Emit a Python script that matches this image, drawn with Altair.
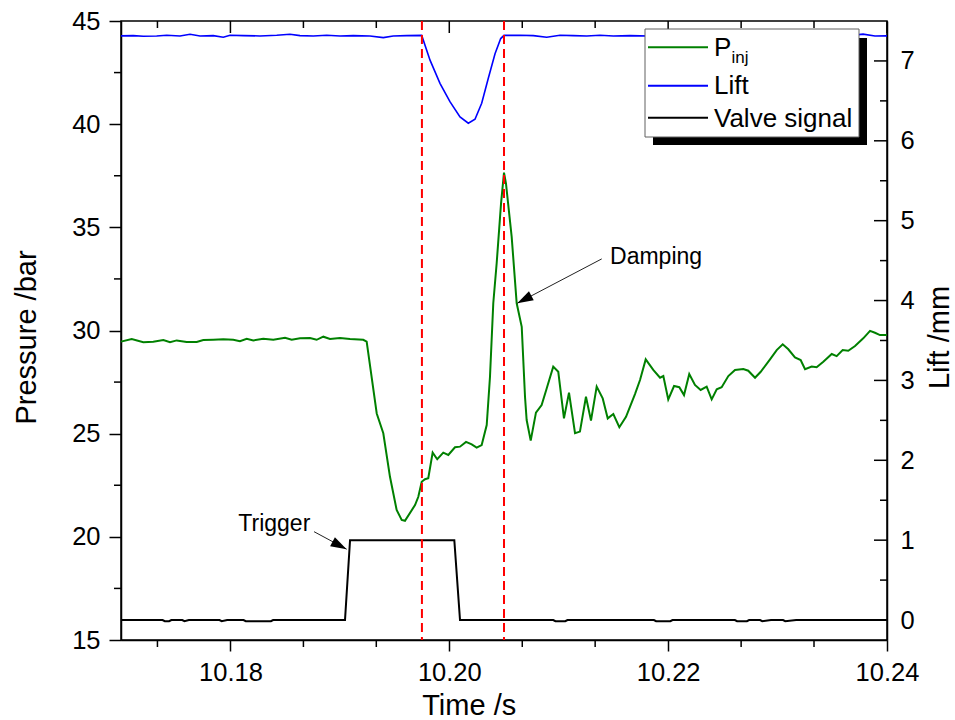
import altair as alt
import pandas as pd

# ---------------- data ----------------
pinj_t = [10.17000, 10.17098, 10.17204, 10.17295, 10.17387, 10.17448, 10.17509, 10.17600, 10.17692, 10.17752,
          10.17843, 10.17935, 10.18026, 10.18087, 10.18149, 10.18209, 10.18300, 10.18392, 10.18499, 10.18560,
          10.18636, 10.18727, 10.18788, 10.18849, 10.18910, 10.19001, 10.19093, 10.19214, 10.19245,
          10.19337, 10.19397, 10.19458, 10.19519, 10.19565, 10.19595, 10.19687, 10.19717, 10.19748, 10.19778,
          10.19808, 10.19848, 10.19890, 10.19945, 10.19991, 10.20052, 10.20098, 10.20153, 10.20205, 10.20250,
          10.20296, 10.20342, 10.20372, 10.20402, 10.20433, 10.20473, 10.20500, 10.20518, 10.20570, 10.20616,
          10.20662, 10.20692, 10.20707, 10.20744, 10.20792, 10.20844, 10.20890, 10.20950, 10.20996, 10.21048,
          10.21094, 10.21149, 10.21194, 10.21249, 10.21295, 10.21347, 10.21402, 10.21448, 10.21499, 10.21554,
          10.21615, 10.21697, 10.21743, 10.21795, 10.21864, 10.21926, 10.21956, 10.22001, 10.22054, 10.22102,
          10.22145, 10.22193, 10.22245, 10.22297, 10.22352, 10.22398, 10.22444, 10.22489, 10.22550, 10.22611,
          10.22687, 10.22732, 10.22794, 10.22846, 10.22931, 10.22992, 10.23047, 10.23098, 10.23159, 10.23211,
          10.23251, 10.23312, 10.23357, 10.23418, 10.23495, 10.23540, 10.23595, 10.23646, 10.23708, 10.23783,
          10.23845, 10.23890, 10.23936, 10.24000]
pinj_p = [29.46, 29.59, 29.43, 29.46, 29.54, 29.43, 29.52, 29.44, 29.44, 29.54,
          29.55, 29.57, 29.55, 29.48, 29.60, 29.52, 29.60, 29.55, 29.65, 29.55,
          29.62, 29.64, 29.55, 29.70, 29.59, 29.64, 29.59, 29.55, 29.46,
          25.98, 25.02, 22.91, 21.30, 20.82, 20.78, 21.54, 21.94, 22.67, 22.79,
          22.84, 24.08, 23.76, 24.08, 23.97, 24.34, 24.37, 24.60, 24.48, 24.32,
          24.45, 25.42, 27.76, 31.32, 33.26, 36.16, 37.65, 37.13, 34.55, 31.32,
          30.18, 26.79, 25.66, 24.66, 26.02, 26.39, 27.19, 28.25, 28.00, 25.74,
          26.99, 25.02, 25.10, 26.79, 25.63, 27.28, 26.71, 25.74, 25.95, 25.31,
          25.82, 26.92, 27.60, 28.60, 28.09, 27.71, 27.79, 26.66, 27.31, 27.25,
          26.87, 27.89, 27.36, 27.12, 27.28, 26.66, 27.15, 27.25, 27.79, 28.09,
          28.13, 28.05, 27.71, 28.00, 28.60, 29.05, 29.33, 29.09, 28.70, 28.57,
          28.12, 28.25, 28.22, 28.49, 28.86, 28.76, 29.05, 29.02, 29.25, 29.62,
          29.98, 29.89, 29.78, 29.78]

lift_t = [10.17000, 10.17112, 10.17204, 10.17326, 10.17418, 10.17539, 10.17631, 10.17722, 10.17843, 10.17935,
          10.17996, 10.18118, 10.18270, 10.18423, 10.18544, 10.18636, 10.18757, 10.18880, 10.19001, 10.19123,
          10.19275, 10.19397, 10.19488, 10.19611, 10.19748, 10.19824, 10.19915, 10.20006, 10.20098, 10.20174,
          10.20235, 10.20296, 10.20356, 10.20418, 10.20470, 10.20500, 10.20646, 10.20768, 10.20890, 10.21012,
          10.21133, 10.21256, 10.21377, 10.21499, 10.21651, 10.21834, 10.22108, 10.22383, 10.22657, 10.22931,
          10.23205, 10.23479, 10.23662, 10.23781, 10.23890, 10.24000]
lift_mm = [7.314, 7.317, 7.309, 7.313, 7.321, 7.313, 7.334, 7.313, 7.317, 7.296,
           7.321, 7.317, 7.313, 7.321, 7.334, 7.317, 7.313, 7.321, 7.313, 7.317,
           7.313, 7.292, 7.313, 7.317, 7.320, 7.010, 6.720, 6.490, 6.300, 6.220,
           6.270, 6.470, 6.780, 7.090, 7.280, 7.320, 7.321, 7.317, 7.296, 7.321,
           7.317, 7.313, 7.321, 7.313, 7.317, 7.313, 7.321, 7.313, 7.317, 7.313,
           7.321, 7.313, 7.317, 7.335, 7.313, 7.314]

valve_t = [10.17000, 10.17380, 10.17400, 10.17440, 10.17460, 10.17560, 10.17580, 10.17620, 10.17900, 10.17920,
           10.17970, 10.18120, 10.18140, 10.18370, 10.18390, 10.19047, 10.19093, 10.20046, 10.20098, 10.20950,
           10.20970, 10.21060, 10.21080, 10.21870, 10.21890, 10.22020, 10.22040, 10.22610, 10.22630, 10.22720,
           10.22740, 10.22840, 10.22860, 10.22940, 10.23050, 10.23070, 10.23170, 10.24000]
valve_v = [0.0, 0.0, -0.015, -0.015, 0.0, 0.0, -0.015, 0.0, 0.0, -0.015,
           0.0, 0.0, -0.015, -0.015, 0.0, 0.0, 1.0, 1.0, 0.0, 0.0,
           -0.015, -0.015, 0.0, 0.0, -0.015, -0.015, 0.0, 0.0, -0.015, -0.015,
           0.0, 0.0, -0.015, 0.0, 0.0, -0.015, 0.0, 0.0]

marker_t = [10.1975, 10.2050]

x_major = [10.18, 10.20, 10.22, 10.24]
x_minor = [10.17333, 10.18667, 10.19333, 10.20667, 10.21333, 10.22667, 10.23333]
p_major = [15, 20, 25, 30, 35, 40, 45]
p_minor = [17.5, 22.5, 27.5, 32.5, 37.5, 42.5]
lift_major = [0, 1, 2, 3, 4, 5, 6, 7]
lift_minor = [0.5, 1.5, 2.5, 3.5, 4.5, 5.5, 6.5]

note_text = ["Trigger", "Damping"]
note_t = [10.18072, 10.21469]
note_p = [20.28, 33.22]
arrow_t0 = [10.18764, 10.21393]
arrow_p0 = [20.25, 33.47]
arrow_t1 = [10.19062, 10.20621]
arrow_p1 = [19.40, 31.32]
arrow_angle = [118, 242]

legend_names = ["P", "Lift", "Valve signal"]
legend_sub = "inj"
legend_colors = ["#008000", "#0000FF", "#000000"]

# ---------------- chart ----------------
W, H = 766, 619
FONT = "Liberation Sans"

xs = alt.Scale(domain=[10.17, 10.24], nice=False, zero=False)
ps = alt.Scale(domain=[15, 45], nice=False, zero=False)
ls = alt.Scale(domain=[-0.25, 7.5], nice=False, zero=False)

pinj_df = pd.DataFrame({"t": pinj_t, "p": pinj_p})
lift_df = pd.DataFrame({"t": lift_t, "mm": lift_mm})
valve_df = pd.DataFrame({"t": valve_t, "mm": valve_v})
marker_df = pd.DataFrame({"t": marker_t})
xmaj_df = pd.DataFrame({"t": x_major})
xmin_df = pd.DataFrame({"t": x_minor})
pmin_df = pd.DataFrame({"p": p_minor})
lmaj_df = pd.DataFrame({"mm": lift_major})
lmin_df = pd.DataFrame({"mm": lift_minor})
note_df = pd.DataFrame({"label": note_text, "t": note_t, "p": note_p})
arrow_df = pd.DataFrame({"t": arrow_t0, "p": arrow_p0, "t1": arrow_t1, "p1": arrow_p1, "ang": arrow_angle})
head_df = pd.DataFrame({"t": arrow_t1, "p": arrow_p1, "ang": arrow_angle})
one = pd.DataFrame({"k": [0]})

x_axis = alt.Axis(
    values=x_major, format=".2f", title="Time /s", grid=False,
    tickSize=11, tickWidth=1.5, tickColor="black",
    domainColor="black", domainWidth=1.5,
    labelFont=FONT, labelFontSize=25.5, labelColor="black",
    labelBaseline="alphabetic", labelPadding=29.7, labelFlush=False, labelOverlap=False,
    titleFont=FONT, titleFontSize=29, titleFontWeight="normal", titleColor="black",
    titleX=347.7, titleY=74, titleBaseline="alphabetic", titleAlign="center",
)
left_axis = alt.Axis(
    values=p_major, title="Pressure /bar", grid=False,
    tickSize=12, tickWidth=1.5, tickColor="black",
    domainColor="black", domainWidth=1.5,
    labelFont=FONT, labelFontSize=25.5, labelColor="black", labelPadding=9,
    labelOverlap=False,
    titleFont=FONT, titleFontSize=29, titleFontWeight="normal", titleColor="black",
    titleAngle=270, titleX=-86, titleY=316, titleBaseline="alphabetic", titleAlign="center",
)
right_axis = alt.Axis(
    orient="right", values=lift_major, title="Lift /mm", grid=False,
    ticks=False, tickSize=0,
    domainColor="black", domainWidth=1.5,
    labelFont=FONT, labelFontSize=25.5, labelColor="black", labelPadding=13,
    labelOverlap=False,
    titleFont=FONT, titleFontSize=29, titleFontWeight="normal", titleColor="black",
    titleAngle=270, titleX=61, titleY=316, titleBaseline="alphabetic", titleAlign="center",
)

X = lambda f: alt.X(f, scale=xs, axis=x_axis, title="Time /s")
YP = lambda f: alt.Y(f, scale=ps, axis=left_axis, title="Pressure /bar")
YL = lambda f: alt.Y(f, scale=ls, axis=right_axis, title="Lift /mm")

pinj = alt.Chart(pinj_df).mark_line(color="#008000", strokeWidth=2).encode(x=X("t:Q"), y=YP("p:Q"))
p_minor_ticks = alt.Chart(pmin_df).mark_rule(color="black", strokeWidth=1.5).encode(
    y=YP("p:Q"), x=alt.value(-7), x2=alt.value(0)
)
x_minor_ticks = alt.Chart(xmin_df).mark_rule(color="black", strokeWidth=1.5).encode(
    x=X("t:Q"), y=alt.value(H), y2=alt.value(H + 7)
)
top_major = alt.Chart(xmaj_df).mark_rule(color="black", strokeWidth=1.5).encode(
    x=X("t:Q"), y=alt.value(0), y2=alt.value(12)
)
top_minor = alt.Chart(xmin_df).mark_rule(color="black", strokeWidth=1.5).encode(
    x=X("t:Q"), y=alt.value(0), y2=alt.value(7)
)
notes = alt.Chart(note_df).mark_text(
    align="left", baseline="alphabetic", font=FONT, fontSize=23, color="black"
).encode(x=X("t:Q"), y=YP("p:Q"), text="label:N")
shafts = alt.Chart(arrow_df).mark_rule(color="#222222", strokeWidth=1).encode(
    x=X("t:Q"), y=YP("p:Q"), x2="t1:Q", y2="p1:Q",
)
heads = alt.Chart(head_df).mark_point(
    shape="M0,0L0.32,1L-0.32,1Z", filled=True, size=1024, color="black", opacity=1, strokeWidth=0
).encode(x=X("t:Q"), y=YP("p:Q"), angle=alt.Angle("ang:Q", scale=None))
left_group = alt.layer(pinj, p_minor_ticks, x_minor_ticks, top_major, top_minor, notes, shafts, heads)

lift = alt.Chart(lift_df).mark_line(color="#0000FF", strokeWidth=1.6).encode(x=X("t:Q"), y=YL("mm:Q"))
valve = alt.Chart(valve_df).mark_line(color="black", strokeWidth=2).encode(x=X("t:Q"), y=YL("mm:Q"))
markers = alt.Chart(marker_df).mark_rule(color="#FF0000", strokeWidth=2, strokeDash=[9, 5]).encode(
    x=X("t:Q"), y=alt.value(0), y2=alt.value(H)
)
r_major = alt.Chart(lmaj_df).mark_rule(color="black", strokeWidth=1.5).encode(
    y=YL("mm:Q"), x=alt.value(W - 13), x2=alt.value(W)
)
r_minor = alt.Chart(lmin_df).mark_rule(color="black", strokeWidth=1.5).encode(
    y=YL("mm:Q"), x=alt.value(W - 7), x2=alt.value(W)
)
right_group = alt.layer(lift, valve, markers, r_major, r_minor)

# legend box drawn by hand (needs a subscript)
shadow = alt.Chart(one).mark_rect(color="black").encode(
    x=alt.value(532), x2=alt.value(746), y=alt.value(17), y2=alt.value(124)
)
box = alt.Chart(one).mark_rect(fill="white", stroke="#606060", strokeWidth=1).encode(
    x=alt.value(524), x2=alt.value(738), y=alt.value(8), y2=alt.value(116)
)
leg_y_line = [26.3, 64.7, 96.7]
leg_y_text = [35.3, 73.3, 105.7]
legend_layers = [shadow, box]
for name, col, yl, yt in zip(legend_names, legend_colors, leg_y_line, leg_y_text):
    legend_layers.append(
        alt.Chart(one).mark_rule(color=col, strokeWidth=2).encode(
            x=alt.value(527), x2=alt.value(587), y=alt.value(yl)
        )
    )
    legend_layers.append(
        alt.Chart(one).mark_text(
            text=name, align="left", baseline="alphabetic", font=FONT, fontSize=26, color="black"
        ).encode(x=alt.value(593), y=alt.value(yt))
    )
legend_layers.append(
    alt.Chart(one).mark_text(
        text=legend_sub, align="left", baseline="alphabetic", font=FONT, fontSize=17, color="black"
    ).encode(x=alt.value(610.5), y=alt.value(42.3))
)
legend_group = alt.layer(*legend_layers)

chart = (
    alt.layer(left_group, right_group, legend_group)
    .resolve_scale(y="independent")
    .properties(
        width=W, height=H,
        padding={"left": 121, "top": 21, "right": 68, "bottom": 80},
        autosize=alt.AutoSizeParams(type="none"),
    )
    .configure(font=FONT)
    .configure_view(stroke="black", strokeWidth=1.5)
)

chart.save("out.html", embed_options={"renderer": "svg", "actions": False})
